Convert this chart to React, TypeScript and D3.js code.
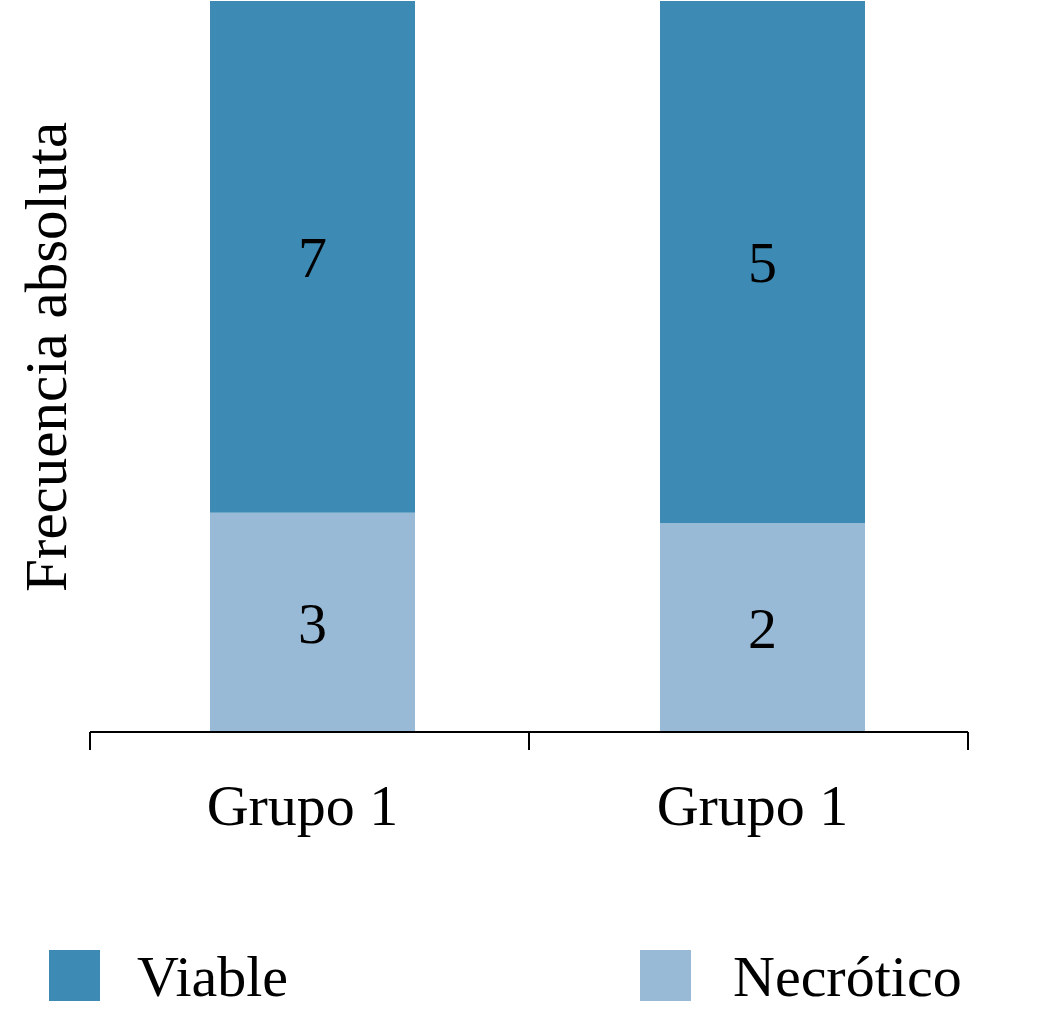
import React from "react";
import * as d3 from "d3";

const categories = ["Grupo 1", "Grupo 1 "];
const seriesKeys = ["Necrótico", "Viable"];
const necrotico = [3, 2];
const viable = [7, 5];
const colors = ["#98bad6", "#3d8ab5"];
const yLabel = "Frecuencia absoluta";

const W = 1045;
const H = 1024;
const font = "'Liberation Serif', 'Times New Roman', serif";

export default function App() {
  const rows = categories.map((c, i) => ({ cat: c, "Necrótico": necrotico[i], Viable: viable[i] }));
  const stack = d3.stack<any>().keys(seriesKeys).offset(d3.stackOffsetExpand);
  const layers = stack(rows);

  const axisX = d3.scaleBand<string>().domain(categories).range([90, 968]).padding(0);
  const barX = d3.scaleBand<string>().domain(categories).range([210, 865]).paddingInner(245 / 450).paddingOuter(0);
  const y = d3.scaleLinear().domain([0, 1]).range([732, 1]);
  const color = d3.scaleOrdinal<string, string>().domain(seriesKeys).range(colors);

  const ticks = [90, ...categories.map((c) => (axisX(c) as number) + axisX.bandwidth())];

  return (
    <svg width={W} height={H} style={{ position: "absolute", left: 0, top: 0, background: "#fff" }} fontFamily={font}>
      {layers.map((layer) => (
        <g key={layer.key} fill={color(layer.key)}>
          {layer.map((d, i) => (
            <rect key={i} x={barX(categories[i])} y={y(d[1])} width={barX.bandwidth()} height={y(d[0]) - y(d[1])} />
          ))}
        </g>
      ))}
      {layers.map((layer) => (
        <g key={layer.key + "l"}>
          {layer.map((d, i) => {
            const cx = (barX(categories[i]) as number) + barX.bandwidth() / 2;
            const v = (d.data as any)[layer.key];
            return (
              <text key={i} x={cx} y={(y(d[0]) + y(d[1])) / 2} dy="0.35em" textAnchor="middle" fontSize={58} fill="#000">
                {v}
              </text>
            );
          })}
        </g>
      ))}
      <line x1={90} x2={968} y1={732} y2={732} stroke="#000" strokeWidth={2} />
      {ticks.map((t, i) => (
        <line key={i} x1={t} x2={t} y1={732} y2={750} stroke="#000" strokeWidth={2} />
      ))}
      {categories.map((c) => (
        <text key={c} x={(barX(c) as number) + barX.bandwidth() / 2 - 10} y={825} textAnchor="middle" fontSize={58} fill="#000">
          {c.trim()}
        </text>
      ))}
      <text transform="translate(66,357) rotate(-90)" textAnchor="middle" fontSize={59} fill="#000">
        {yLabel}
      </text>
      {[
        { key: "Viable", sx: 49, tx: 137 },
        { key: "Necrótico", sx: 640, tx: 733 },
      ].map((l) => (
        <g key={l.key}>
          <rect x={l.sx} y={950} width={51} height={51} fill={color(l.key)} />
          <text x={l.tx} y={996} fontSize={58} fill="#000">
            {l.key}
          </text>
        </g>
      ))}
    </svg>
  );
}
